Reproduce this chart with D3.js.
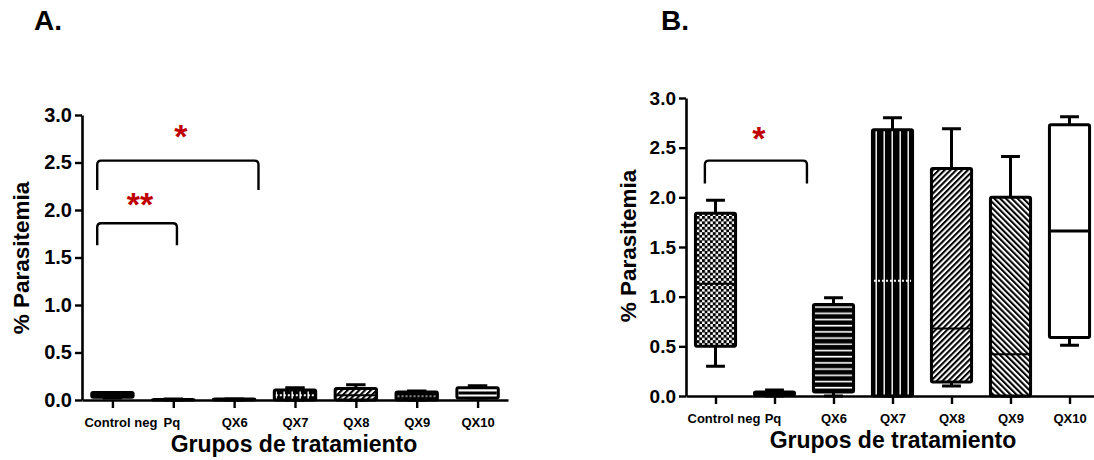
<!DOCTYPE html>
<html>
<head>
<meta charset="utf-8">
<script src="https://cdn.jsdelivr.net/npm/d3@7"></script>
<style>
  body { margin: 0; background: #fff; }
  svg { display: block; font-family: "Liberation Sans", Arial, sans-serif; }
</style>
</head>
<body>
<div id="chart"></div>
<script>
// categories shared by both panels
const categories = ["Control neg", "Pq", "QX6", "QX7", "QX8", "QX9", "QX10"];
const yTicks = [0, 0.5, 1.0, 1.5, 2.0, 2.5, 3.0];

// Panel A (min, q1, median, q3, max) per group
const aMin = [0.02, 0.0, 0.0, 0.0, 0.0, 0.0, 0.02];
const aQ1  = [0.03, 0.0, 0.0, 0.0, 0.0, 0.0, 0.02];
const aMed = [0.05, 0.0, 0.0, 0.05, 0.05, 0.04, 0.075];
const aQ3  = [0.08, 0.005, 0.01, 0.105, 0.12, 0.085, 0.13];
const aMax = [0.08, 0.01, 0.01, 0.13, 0.16, 0.095, 0.15];

// Panel B
const bMin = [0.30, 0.0, 0.0, 0.0, 0.10, 0.0, 0.51];
const bQ1  = [0.50, 0.01, 0.04, 0.0, 0.14, 0.0, 0.59];
const bMed = [1.13, 0.02, 0.50, 1.16, 0.68, 0.42, 1.66];
const bQ3  = [1.84, 0.04, 0.92, 2.68, 2.29, 2.00, 2.73];
const bMax = [1.97, 0.06, 0.99, 2.80, 2.69, 2.41, 2.81];

// significance brackets: from/to as fractional category index, values on y
const aBrackets = [
  { from: -0.25, to: 2.4, top: 2.52, end: 2.21, label: "*", labelY: 2.86 },
  { from: -0.25, to: 1.06, top: 1.86, end: 1.63, label: "**", labelY: 2.14 }
];
const bBrackets = [
  { from: -0.18, to: 1.55, top: 2.37, end: 2.14, label: "*", labelY: 2.68 }
];

const width = 1094, height = 460;
const svg = d3.select("#chart").append("svg")
  .attr("width", width).attr("height", height);

// patterns
const defs = svg.append("defs");
const pCheck = defs.append("pattern").attr("id", "check").attr("patternUnits", "userSpaceOnUse")
  .attr("width", 5.4).attr("height", 5.4);
pCheck.append("rect").attr("width", 5.4).attr("height", 5.4).attr("fill", "#fff");
pCheck.append("rect").attr("width", 3).attr("height", 3).attr("fill", "#000");
pCheck.append("rect").attr("x", 2.7).attr("y", 2.7).attr("width", 3).attr("height", 3).attr("fill", "#000");

const pH = defs.append("pattern").attr("id", "hstripe").attr("patternUnits", "userSpaceOnUse")
  .attr("width", 10).attr("height", 6.2);
pH.append("rect").attr("width", 10).attr("height", 6.2).attr("fill", "#000");
pH.append("rect").attr("y", 2.5).attr("width", 10).attr("height", 1.6).attr("fill", "#fff");

const pV = defs.append("pattern").attr("id", "vstripe").attr("patternUnits", "userSpaceOnUse")
  .attr("width", 8).attr("height", 10);
pV.append("rect").attr("width", 8).attr("height", 10).attr("fill", "#000");
pV.append("rect").attr("x", 3.5).attr("width", 1.4).attr("height", 10).attr("fill", "#fff");

function hatch(id, angle, gap) {
  const p = defs.append("pattern").attr("id", id).attr("patternUnits", "userSpaceOnUse")
    .attr("width", gap).attr("height", gap).attr("patternTransform", `rotate(${angle})`);
  p.append("rect").attr("width", gap).attr("height", gap).attr("fill", "#fff");
  p.append("rect").attr("width", gap * 0.5).attr("height", gap).attr("fill", "#000");
}
hatch("fwd", 45, 4.1);
hatch("back", -45, 4.1);

const aFills = ["#000", "#000", "#000", "url(#vstripe)", "url(#fwd)", "#000", "#fff"];
const bFills = ["url(#check)", "#000", "url(#hstripe)", "url(#vstripe)", "url(#fwd)", "url(#back)", "#fff"];
const aMedColors = ["#000", "#fff", "#000", "#fff", "#000", "#888", "#000"];
const bMedColors = ["#000", "#fff", "#000", "#fff", "#000", "#000", "#000"];

function drawPanel(cfg) {
  const g = svg.append("g");
  const x = d3.scalePoint().domain(categories).range(cfg.xRange).padding(0.5);
  const y = d3.scaleLinear().domain([0, 3]).range(cfg.yRange);
  const step = x.step();
  const bw = step * 0.68;
  const fx = f => x(categories[0]) + f * step;

  // y axis
  const ya = g.append("g").attr("transform", `translate(${cfg.xRange[0]},0)`)
    .call(d3.axisLeft(y).tickValues(yTicks).tickFormat(d3.format(".1f")).tickSize(7).tickSizeOuter(0).tickPadding(3));
  ya.select(".domain").attr("stroke-width", 2.6);
  ya.selectAll(".tick line").attr("stroke-width", 2.4);
  ya.selectAll("text").attr("font-size", cfg.yFont).attr("font-weight", "bold").attr("fill", "#000");

  // x axis
  const xa = g.append("g").attr("transform", `translate(0,${cfg.yRange[0]})`)
    .call(d3.axisBottom(x).tickSize(8).tickSizeOuter(0).tickPadding(10));
  xa.select(".domain").attr("stroke-width", 2.6);
  xa.selectAll(".tick line").attr("stroke-width", 2.4);
  xa.selectAll("text").attr("font-size", 13).attr("font-weight", "bold").attr("fill", "#000")
    .attr("dx", (d, i) => i === 0 ? 8 : (i === 1 ? -2 : 0));

  // boxes
  const data = categories.map((c, i) => ({
    c, i, min: cfg.min[i], q1: cfg.q1[i], med: cfg.med[i], q3: cfg.q3[i], max: cfg.max[i]
  }));
  const box = g.append("g").selectAll("g").data(data).join("g");
  const cap = bw * 0.47;
  // whiskers
  box.append("path")
    .attr("d", d => `M${x(d.c)},${y(d.q3)}V${y(d.max)}M${x(d.c) - cap / 2},${y(d.max)}H${x(d.c) + cap / 2}` +
      `M${x(d.c)},${y(d.q1)}V${y(d.min)}M${x(d.c) - cap / 2},${y(d.min)}H${x(d.c) + cap / 2}`)
    .attr("stroke", "#000").attr("stroke-width", 3).attr("fill", "none");
  box.append("rect")
    .attr("x", d => x(d.c) - bw / 2).attr("width", bw)
    .attr("y", d => y(d.q3)).attr("height", d => y(d.q1) - y(d.q3))
    .attr("rx", 1.5)
    .attr("fill", d => cfg.fills[d.i]).attr("stroke", "#000").attr("stroke-width", 3);
  box.append("line")
    .attr("x1", d => x(d.c) - bw / 2 + 1.5).attr("x2", d => x(d.c) + bw / 2 - 1.5)
    .attr("y1", d => y(d.med)).attr("y2", d => y(d.med))
    .attr("stroke", d => cfg.medColors[d.i])
    .attr("stroke-width", d => d.i === 6 ? 3 : 2)
    .attr("stroke-dasharray", d => (d.i === 3 || (cfg.letter === "A." && d.i === 5)) ? "2,2" : null)
    .attr("visibility", d => (y(d.q1) - y(d.q3)) > 6 ? "visible" : "hidden");

  // brackets
  cfg.brackets.forEach(b => {
    const x1 = fx(b.from), x2 = fx(b.to), yt = y(b.top), ye = y(b.end), r = 4;
    g.append("path")
      .attr("d", `M${x1},${ye}V${yt + r}Q${x1},${yt} ${x1 + r},${yt}H${x2 - r}Q${x2},${yt} ${x2},${yt + r}V${ye}`)
      .attr("fill", "none").attr("stroke", "#000").attr("stroke-width", 2.4);
    g.append("text")
      .attr("x", (x1 + x2) / 2 + 3).attr("y", y(b.labelY) + 34 * 0.58)
      .attr("text-anchor", "middle").attr("font-size", 34).attr("font-weight", "bold")
      .attr("fill", "#c00000").text(b.label);
  });

  // axis titles
  g.append("text")
    .attr("x", cfg.xTitleX).attr("y", cfg.yRange[0] + 52)
    .attr("text-anchor", "middle").attr("font-size", 23).attr("font-weight", "bold")
    .text("Grupos de tratamiento");
  g.append("text")
    .attr("transform", `translate(${cfg.yTitleX},${cfg.yTitleY}) rotate(-90)`)
    .attr("text-anchor", "middle").attr("font-size", 22.5).attr("font-weight", "bold")
    .text("% Parasitemia");
  g.append("text")
    .attr("x", cfg.letterX).attr("y", 30)
    .attr("font-size", 28).attr("font-weight", "bold").text(cfg.letter);
}

drawPanel({
  letter: "A.", letterX: 34,
  xRange: [82, 508], yRange: [400, 115], yFont: 20,
  min: aMin, q1: aQ1, med: aMed, q3: aQ3, max: aMax,
  fills: aFills, medColors: aMedColors,
  brackets: aBrackets,
  xTitleX: 294, yTitleX: 29, yTitleY: 258
});
drawPanel({
  letter: "B.", letterX: 661,
  xRange: [686, 1099], yRange: [396, 98], yFont: 19,
  min: bMin, q1: bQ1, med: bMed, q3: bQ3, max: bMax,
  fills: bFills, medColors: bMedColors,
  brackets: bBrackets,
  xTitleX: 893, yTitleX: 636, yTitleY: 246
});
</script>
</body>
</html>
